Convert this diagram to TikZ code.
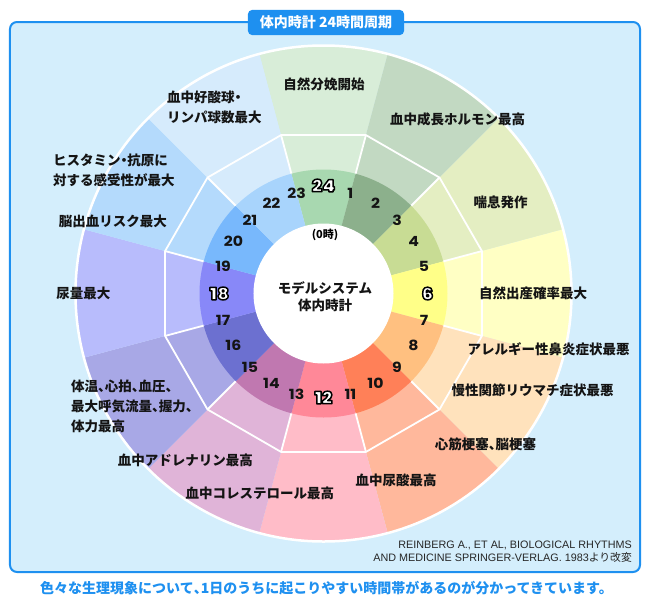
\documentclass[tikz,border=0pt]{standalone}
\usepackage{fontspec}
\setmainfont{Noto Sans CJK JP}
\newfontfamily\numfont{Poppins}[FakeStretch=1.12]
\newfontfamily\bignumfont{Poppins Black}[FakeStretch=1.08]
\newfontfamily\reffont{Liberation Sans}
\definecolor{panelbg}{HTML}{D4EEFC}
\definecolor{frameblue}{HTML}{1E90F0}
% outer / middle sector colours
\definecolor{sA}{HTML}{D8EDD8}
\definecolor{sB}{HTML}{C2D9C2}
\definecolor{sC}{HTML}{E4EEC2}
\definecolor{sD}{HTML}{FFFFC4}
\definecolor{sE}{HTML}{FFE2BC}
\definecolor{sF}{HTML}{FFB89C}
\definecolor{sG}{HTML}{FFBCC8}
\definecolor{sH}{HTML}{E0B4D8}
\definecolor{sI}{HTML}{A8A8E6}
\definecolor{sJ}{HTML}{B8BCFC}
\definecolor{sK}{HTML}{B4DAFC}
\definecolor{sL}{HTML}{D6EBFC}
% number ring colours
\definecolor{nA}{HTML}{A8D8B0}
\definecolor{nB}{HTML}{8CB08C}
\definecolor{nC}{HTML}{C8DC94}
\definecolor{nD}{HTML}{FFFF88}
\definecolor{nE}{HTML}{FFC080}
\definecolor{nF}{HTML}{FF8058}
\definecolor{nG}{HTML}{FF8898}
\definecolor{nH}{HTML}{C078B0}
\definecolor{nI}{HTML}{6C70D0}
\definecolor{nJ}{HTML}{8888F8}
\definecolor{nK}{HTML}{78B8FC}
\definecolor{nL}{HTML}{A8D4FC}
\newcommand\tn{\makebox[0.5em][l]{、}}
\newcommand\nk{\makebox[0.5em][c]{・}}
% outlined number: white fill, black stroke (text render mode 2)
\newcommand\olnum[1]{{\color{white}\special{pdf:literal direct 0 0 0 RG 1.5 w 1 j 2 Tr}#1\special{pdf:literal direct 0 Tr}}}
\begin{document}
\begin{tikzpicture}[x=1pt,y=1pt,
  lab/.style={font=\bfseries\fontsize{13.5}{20}\selectfont,inner sep=0pt,text=black!92},
  num/.style={font=\numfont\bfseries\fontsize{14}{14}\selectfont,inner sep=0pt,text=black!92},
  bignumstyle/.style={font=\bignumfont\fontsize{17}{17}\selectfont,inner sep=0pt},
  whiteline/.style={white,line width=1.8pt}]
\useasboundingbox (-323.5,-312.5) rectangle (326.5,293.5);
\fill[white] (-323.5,-312.5) rectangle (326.5,293.5);
% panel
\draw[draw=frameblue,line width=2pt,fill=panelbg,rounded corners=7pt]
  (-313.5,271.5) rectangle (316.5,-278.5);
% outer sectors
\foreach \k/\sc in {0/sA,1/sB,2/sC,3/sD,4/sE,5/sF,6/sG,7/sH,8/sI,9/sJ,10/sK,11/sL}{
  \pgfmathsetmacro\aa{75-30*\k}
  \pgfmathsetmacro\ab{105-30*\k}
  \fill[\sc] (0,0) -- (\aa:248) arc[start angle=\aa,end angle=\ab,radius=248] -- cycle;
}
% white lines of the middle band
\draw[whiteline,line join=miter] (15:164) \foreach \i in {1,...,11}{ -- ({15+30*\i}:164)} -- cycle;
\foreach \i in {0,...,11}
  \draw[whiteline] ({15+30*\i}:123) -- ({15+30*\i}:164);
% number ring
\foreach \k/\nc in {0/nA,1/nB,2/nC,3/nD,4/nE,5/nF,6/nG,7/nH,8/nI,9/nJ,10/nK,11/nL}{
  \pgfmathsetmacro\aa{75-30*\k}
  \pgfmathsetmacro\ab{105-30*\k}
  \fill[\nc] (0,0) -- (\aa:124) arc[start angle=\aa,end angle=\ab,radius=124] -- cycle;
}
\fill[white] (0,0) circle[radius=70];
\draw[white,line width=2.5pt] (0,0) circle[radius=248];
% hour numbers
\foreach \h in {1,2,3,4,5,7,8,9,10,11,13,14,15,16,17,19,20,21,22,23}
  \node[num] (h\h) at ({90-15*\h}:104) {\h};
% centre
\node[font=\bfseries\fontsize{11}{11}\selectfont,inner sep=0pt] (zero) at (1.5,58.5) {(0時)};
\node[lab,align=center,font=\bfseries\fontsize{13.5}{17}\selectfont] (centre) at (1.5,-3.5) {モデルシステム\\体内時計};
% labels
\node[lab] (l1) at (0.5,209.5) {自然分娩開始};
\node[lab] (l2) at (134,174.5) {血中成長ホルモン最高};
\node[lab] (l3) at (177,91.5) {喘息発作};
\node[lab] (l4) at (209.5,0.5) {自然出産確率最大};
\node[lab] (l5) at (225,-55.5) {アレルギー性鼻炎症状最悪};
\node[lab] (l6) at (209,-96.5) {慢性関節リウマチ症状最悪};
\node[lab] (l7) at (162,-150.5) {心筋梗塞\tn 脳梗塞};
\node[lab] (l8) at (72.5,-186.5) {血中尿酸最高};
\node[lab] (l9) at (-63.5,-199.5) {血中コレステロール最高};
\node[lab] (l10) at (-138,-166.5) {血中アドレナリン最高};
\node[lab,align=left,anchor=west] (l11) at (-252.5,-112.5) {体温\tn 心拍\tn 血圧\tn\\最大呼気流量\tn 握力\tn\\体力最高};
\node[lab] (l12) at (-240,0.5) {尿量最大};
\node[lab] (l13) at (-210.5,72.5) {脳出血リスク最大};
\node[lab,align=left,anchor=west] (l14) at (-270.5,123) {ヒスタミン\nk 抗原に\\対する感受性が最大};
\node[lab,align=left,anchor=west] (l15) at (-156.5,186.5) {血中好酸球\nk\\リンパ球数最大};
% title
\node[fill=frameblue,rounded corners=4pt,minimum width=156pt,minimum height=25pt,inner sep=0pt,
      text=white,font=\bfseries\fontsize{14}{14}\selectfont] (title) at (2.5,271) {体内時計 24時間周期};
% source
\node[anchor=east,inner sep=0pt,text=black!85,font=\reffont\fontsize{10.8}{10.8}\selectfont] (src1) at (308.5,-251.5) {REINBERG A., ET AL, BIOLOGICAL RHYTHMS};
\node[anchor=east,inner sep=0pt,text=black!85,font=\fontsize{10.8}{10.8}\selectfont] (src2) at (308.5,-263.5) {{\reffont AND MEDICINE SPRINGER-VERLAG. 1983}より改変};
% caption
\node[inner sep=0pt,text=frameblue,font=\bfseries\fontsize{14}{14}\selectfont] (caption) at (3,-294.5) {色々な生理現象について\tn 1日のうちに起こりやすい時間帯があるのが分かってきています。};
% big outlined hour numbers
\node[bignumstyle] (h24) at (90:108) {\olnum{24}};
\node[bignumstyle] (h6) at (0:104) {\olnum{6}};
\node[bignumstyle] (h12) at (-90:104) {\olnum{12}};
\node[bignumstyle] (h18) at (180:104) {\olnum{18}};
\end{tikzpicture}
\end{document}
